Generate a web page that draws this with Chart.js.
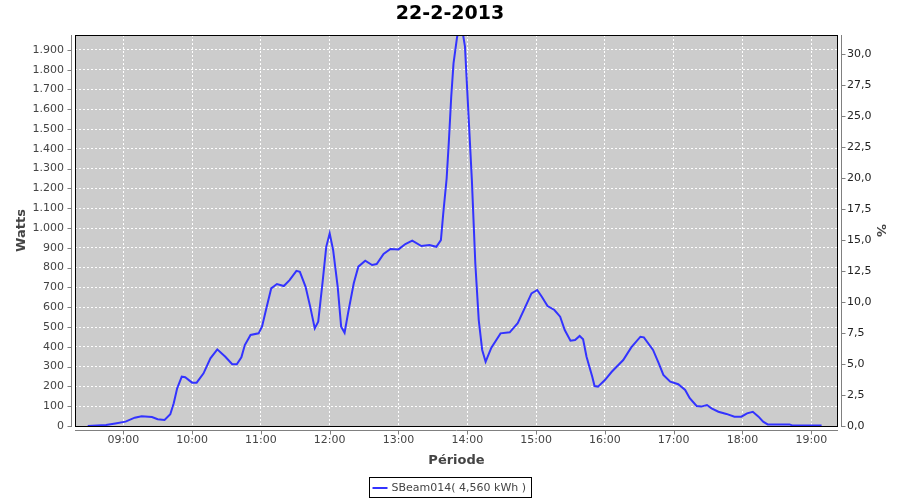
<!DOCTYPE html>
<html><head><meta charset="utf-8">
<script src="https://cdn.jsdelivr.net/npm/chart.js@4.4.0/dist/chart.umd.min.js"></script>
<style>html,body{margin:0;padding:0;background:#fff}#wrap{width:900px;height:500px}</style>
</head><body><div id="wrap"><canvas id="c" width="900" height="500"></canvas></div>
<script>
const chartTitle = "22-2-2013";
const seriesLabel = "SBeam014( 4,560 kWh )";
const xTitle = "Période";
const yTitle = "Watts";
const y2Title = "%";

const times = ["08:29","08:45","08:53","09:02","09:10","09:16","09:25","09:30","09:36","09:41",
"09:44","09:47","09:51","09:54","10:00","10:04","10:10","10:16","10:22","10:29",
"10:35","10:39","10:43","10:46","10:51","10:58","11:01","11:05","11:09","11:14",
"11:20","11:25","11:31","11:34","11:39","11:43","11:47","11:50","11:54","11:57",
"12:00","12:03","12:07","12:10","12:13","12:16","12:21","12:25","12:31","12:37",
"12:41","12:47","12:53","13:00","13:06","13:12","13:20","13:27","13:33","13:37",
"13:39","13:42","13:44","13:46","13:48","13:51","13:54","13:58","14:01","14:04",
"14:07","14:10","14:13","14:16","14:21","14:29","14:37","14:44","14:50","14:56",
"15:01","15:05","15:10","15:16","15:21","15:25","15:30","15:34","15:38","15:41",
"15:44","15:49","15:51","15:54","16:00","16:06","16:16","16:23","16:31","16:34",
"16:42","16:47","16:51","16:57","17:04","17:10","17:14","17:20","17:24","17:29",
"17:33","17:39","17:46","17:53","17:59","18:04","18:09","18:14","18:18","18:22",
"18:41","18:44","19:09"];

const watts = [0,5,13,22,42,49,45,34,30,59,
115,190,249,246,219,219,266,342,387,350,
312,312,347,409,460,468,502,600,695,717,
707,737,784,779,703,603,493,527,737,905,
973,889,703,502,471,569,721,805,835,813,
818,869,894,892,919,936,909,914,905,939,
1070,1250,1444,1663,1832,1960,2060,1916,1579,1242,
822,535,384,325,396,468,473,519,594,670,
687,653,606,586,552,485,431,434,455,438,
350,249,202,199,232,274,333,397,451,448,
384,316,258,224,211,182,140,101,98,106,
89,72,61,47,47,64,72,47,22,8,
8,2,2];

const hourTicks = ["09:00","10:00","11:00","12:00","13:00","14:00","15:00","16:00","17:00","18:00","19:00"];
const wattTicks = [0,100,200,300,400,500,600,700,800,900,1000,1100,1200,1300,1400,1500,1600,1700,1800,1900];
const pctTicks = [0,2.5,5,7.5,10,12.5,15,17.5,20,22.5,25,27.5,30];

const toMin = s => { const [h,m] = s.split(":").map(Number); return h*60+m; };
const fmtWatt = v => v >= 1000 ? Math.floor(v/1000) + "." + String(v%1000).padStart(3,"0") : String(v);
const fmtPct = v => v.toFixed(1).replace(".", ",");

const FONT = "DejaVu Sans";

const deco = {
  id: "deco",
  beforeDraw(chart) {
    const {ctx, chartArea: a} = chart;
    ctx.save();
    ctx.fillStyle = "#cccccc";
    ctx.fillRect(a.left, a.top, a.right - a.left, a.bottom - a.top);
    ctx.restore();
  },
  afterDraw(chart) {
    const {ctx, chartArea: a, scales} = chart;
    ctx.save();
    ctx.lineWidth = 1;
    ctx.strokeStyle = "#000";
    ctx.strokeRect(a.left + 0.5, a.top + 0.5, a.right - a.left - 1, a.bottom - a.top);
    ctx.strokeStyle = "#808080";
    ctx.beginPath();
    // left axis line + ticks
    const lx = a.left - 3.5;
    ctx.moveTo(lx, a.top); ctx.lineTo(lx, a.bottom + 1);
    wattTicks.forEach(v => { const y = Math.round(scales.y.getPixelForValue(v)) + 0.5; ctx.moveTo(lx - 4, y); ctx.lineTo(lx, y); });
    // bottom axis line + ticks
    const by = a.bottom + 4.5;
    ctx.moveTo(a.left, by); ctx.lineTo(a.right, by);
    hourTicks.forEach(t => { const x = Math.round(scales.x.getPixelForValue(toMin(t))) + 0.5; ctx.moveTo(x, by); ctx.lineTo(x, by + 4); });
    // right axis line + ticks
    const rx = a.right + 3.5;
    ctx.moveTo(rx, a.top); ctx.lineTo(rx, a.bottom + 1);
    pctTicks.forEach(v => { const y = Math.round(scales.y1.getPixelForValue(v)) + 0.5; ctx.moveTo(rx, y); ctx.lineTo(rx + 4, y); });
    ctx.stroke();

    // legend
    const ds = chart.data.datasets[0];
    ctx.font = "11px '" + FONT + "'";
    const tw = ctx.measureText(ds.label).width;
    const bw = Math.round(3 + 15 + 4 + tw + 5);
    const x0 = Math.round(450 - bw / 2) + 0.5;
    const y0 = 477.5, bh = 20;
    ctx.strokeStyle = "#000";
    ctx.strokeRect(x0, y0, bw, bh);
    ctx.strokeStyle = ds.borderColor;
    ctx.lineWidth = 2;
    ctx.beginPath(); ctx.moveTo(x0 + 3, y0 + 10.5); ctx.lineTo(x0 + 18, y0 + 10.5); ctx.stroke();
    ctx.fillStyle = "#444";
    ctx.textBaseline = "middle";
    ctx.textAlign = "left";
    ctx.fillText(ds.label, x0 + 22, y0 + 11);
    ctx.restore();
  }
};

new Chart(document.getElementById("c"), {
  type: "line",
  data: {
    datasets: [{
      label: seriesLabel,
      data: times.map((t, i) => ({x: toMin(t), y: watts[i]})),
      borderColor: "#3333ff",
      borderWidth: 2,
      pointRadius: 0,
      tension: 0,
      fill: false,
      yAxisID: "y"
    }]
  },
  options: {
    responsive: false,
    animation: false,
    devicePixelRatio: 1,
    layout: {padding: {left: 0, right: 0, top: 0, bottom: 26}},
    plugins: {
      legend: {display: false},
      tooltip: {enabled: false},
      title: {display: true, text: chartTitle, color: "#000",
        font: {family: FONT, size: 19, weight: "bold", lineHeight: 1.2},
        padding: {top: 3, bottom: 9.2}}
    },
    scales: {
      x: {
        type: "linear", min: 497.9, max: 1163.3,
        afterBuildTicks: ax => { ax.ticks = hourTicks.map(t => ({value: toMin(t)})); },
        afterFit: ax => { ax.height = 48; },
        ticks: {callback: (v, i) => hourTicks[i], color: "#444", font: {family: FONT, size: 11}, padding: 8, maxRotation: 0, autoSkip: false},
        grid: {color: "#ffffff", drawTicks: false, lineWidth: 1},
        border: {display: false, dash: [2, 2]},
        title: {display: true, text: xTitle, color: "#444", font: {family: FONT, size: 13, weight: "bold", lineHeight: 1.2}, padding: {top: 0, bottom: 6}}
      },
      y: {
        position: "left", min: 0, max: 1975,
        afterBuildTicks: ax => { ax.ticks = wattTicks.map(v => ({value: v})); },
        afterFit: ax => { ax.width = 75; },
        ticks: {callback: v => fmtWatt(v), color: "#444", font: {family: FONT, size: 11}, padding: 11, autoSkip: false},
        grid: {color: "#ffffff", drawTicks: false, lineWidth: 1},
        border: {display: false, dash: [2, 2]},
        title: {display: true, text: yTitle, color: "#444", font: {family: FONT, size: 13, weight: "bold", lineHeight: 1.2}, padding: {top: 14, bottom: 0}}
      },
      y1: {
        position: "right", min: 0, max: 31.56,
        afterBuildTicks: ax => { ax.ticks = pctTicks.map(v => ({value: v})); },
        afterFit: ax => { ax.width = 62; },
        ticks: {callback: v => fmtPct(v), color: "#222", font: {family: FONT, size: 11}, padding: 9, autoSkip: false},
        grid: {display: false, drawTicks: false},
        border: {display: false},
        title: {display: true, text: y2Title, color: "#444", font: {family: FONT, size: 13, weight: "bold", lineHeight: 1.2}, padding: {top: 12, bottom: 0}}
      }
    }
  },
  plugins: [deco]
});
</script>
</body></html>
